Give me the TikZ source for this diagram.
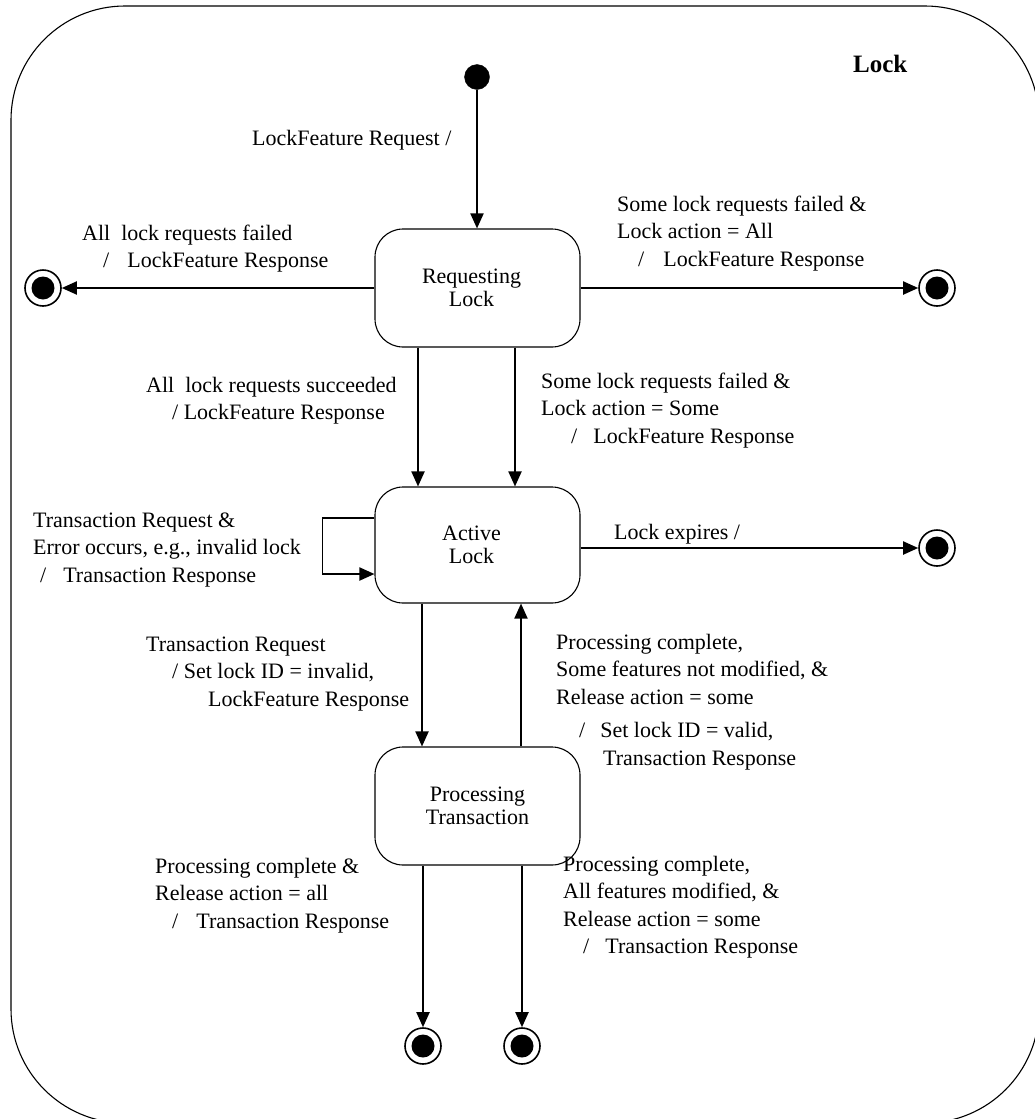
\documentclass[tikz,border=0pt]{standalone}
\usepackage{fontspec}
\setmainfont{Liberation Serif}
\usetikzlibrary{arrows.meta}
\tikzset{
  statebox/.style={draw, line width=1.1pt, rounded corners=28pt, minimum width=205pt, align=center, inner sep=0pt, font=\fontsize{22}{22.5}\selectfont},
  initstate/.style={circle, fill=black, draw=black, minimum size=25pt, inner sep=0pt},
  finalring/.style={circle, draw, line width=1.6pt, minimum size=36pt, inner sep=0pt,
     path picture={\fill (path picture bounding box.center) circle (11.5pt);}},
  trans/.style={line width=1.9pt, -{Triangle[length=15pt,width=13pt]}},
  lbl/.style={anchor=base west, inner sep=0pt, align=left, font=\fontsize{22}{27.5}\selectfont},
}
\begin{document}
\begin{tikzpicture}[x=1pt,y=-1pt]
\useasboundingbox (0,0) rectangle (1035,1119);
\begin{scope}
\clip (0,0) rectangle (1035,1119);
\draw[line width=1.1pt, rounded corners=114pt] (11,6) rectangle (1039,1123);
\end{scope}
\node[anchor=base west, inner sep=0pt, font=\fontsize{25}{25}\selectfont\bfseries] (title) at (853,72) {Lock};

% states
\node[statebox, minimum height=118pt] (req) at (477.5,288) {Requesting\hspace*{12pt}\\Lock\hspace*{12pt}};
\node[statebox, minimum height=116pt] (act) at (477.5,545) {Active\hspace*{12pt}\\Lock\hspace*{12pt}};
\node[statebox, minimum height=118pt] (proc) at (477.5,806) {Processing\\Transaction};

\node[initstate] (init) at (477,77) {};
\node[finalring] (fL) at (43,288) {};
\node[finalring] (fR) at (937,288) {};
\node[finalring] (fA) at (937,548) {};
\node[finalring] (fB1) at (423,1046) {};
\node[finalring] (fB2) at (522,1046) {};

% transitions
\draw[trans] (init) -- (init |- req.north);
\draw[trans] (req.west) -- (fL);
\draw[trans] (req.east) -- (fR);
\draw[trans] ([xshift=-59.5pt]req.south) -- ([xshift=-59.5pt]act.north);
\draw[trans] ([xshift=37.5pt]req.south) -- ([xshift=37.5pt]act.north);
\draw[trans] ([yshift=-3pt]act.east) -- (fA);
\draw[trans] ([yshift=27pt]act.west) -- ++(-52,0) |- ([yshift=-29pt]act.west);
\draw[trans] ([xshift=-55.5pt]act.south) -- ([xshift=-55.5pt]proc.north);
\draw[trans] ([xshift=43.5pt]proc.north) -- ([xshift=43.5pt]act.south);
\draw[trans] (proc.south -| fB1) -- (fB1);
\draw[trans] (proc.south -| fB2) -- (fB2);

% labels (anchored at the baseline of their last line)
\node[lbl] (l1) at (252,145) {LockFeature Request /};
\node[lbl] (l2) at (82,267.5) {All\ \ lock requests failed\\\hspace*{21pt}/\hspace*{18pt}LockFeature Response};
\node[lbl] (l3) at (617,266) {Some lock requests failed \&\\Lock action = All\\\hspace*{21pt}/\hspace*{19pt}LockFeature Response};
\node[lbl] (l4) at (146,419.5) {All\ \ lock requests succeeded\\\hspace*{26pt}/ LockFeature Response};
\node[lbl] (l5) at (541,443) {Some lock requests failed \&\\Lock action = Some\\\hspace*{30pt}/\hspace*{16pt}LockFeature Response};
\node[lbl] (l6) at (33,582) {Transaction Request \&\\Error occurs, e.g., invalid lock\\\hspace*{7pt}/\hspace*{17pt}Transaction Response};
\node[lbl] (l7) at (614,539) {Lock expires /};
\node[lbl] (l8) at (146,706) {Transaction Request\\\hspace*{26pt}/ Set lock ID = invalid,\\\hspace*{62pt}LockFeature Response};
\node[lbl] (l9) at (556,765) {Processing complete,\\Some features not modified, \&\\Release action = some\\[6pt]\hspace*{23pt}/\hspace*{15pt}Set lock ID = valid,\\\hspace*{47pt}Transaction Response};
\node[lbl] (l10) at (155,928) {Processing complete \&\\Release action = all\\\hspace*{17pt}/\hspace*{18pt}Transaction Response};
\node[lbl] (l11) at (563,953.5) {Processing complete,\\All features modified, \&\\Release action = some\\\hspace*{20pt}/\hspace*{16pt}Transaction Response};
\end{tikzpicture}
\end{document}
